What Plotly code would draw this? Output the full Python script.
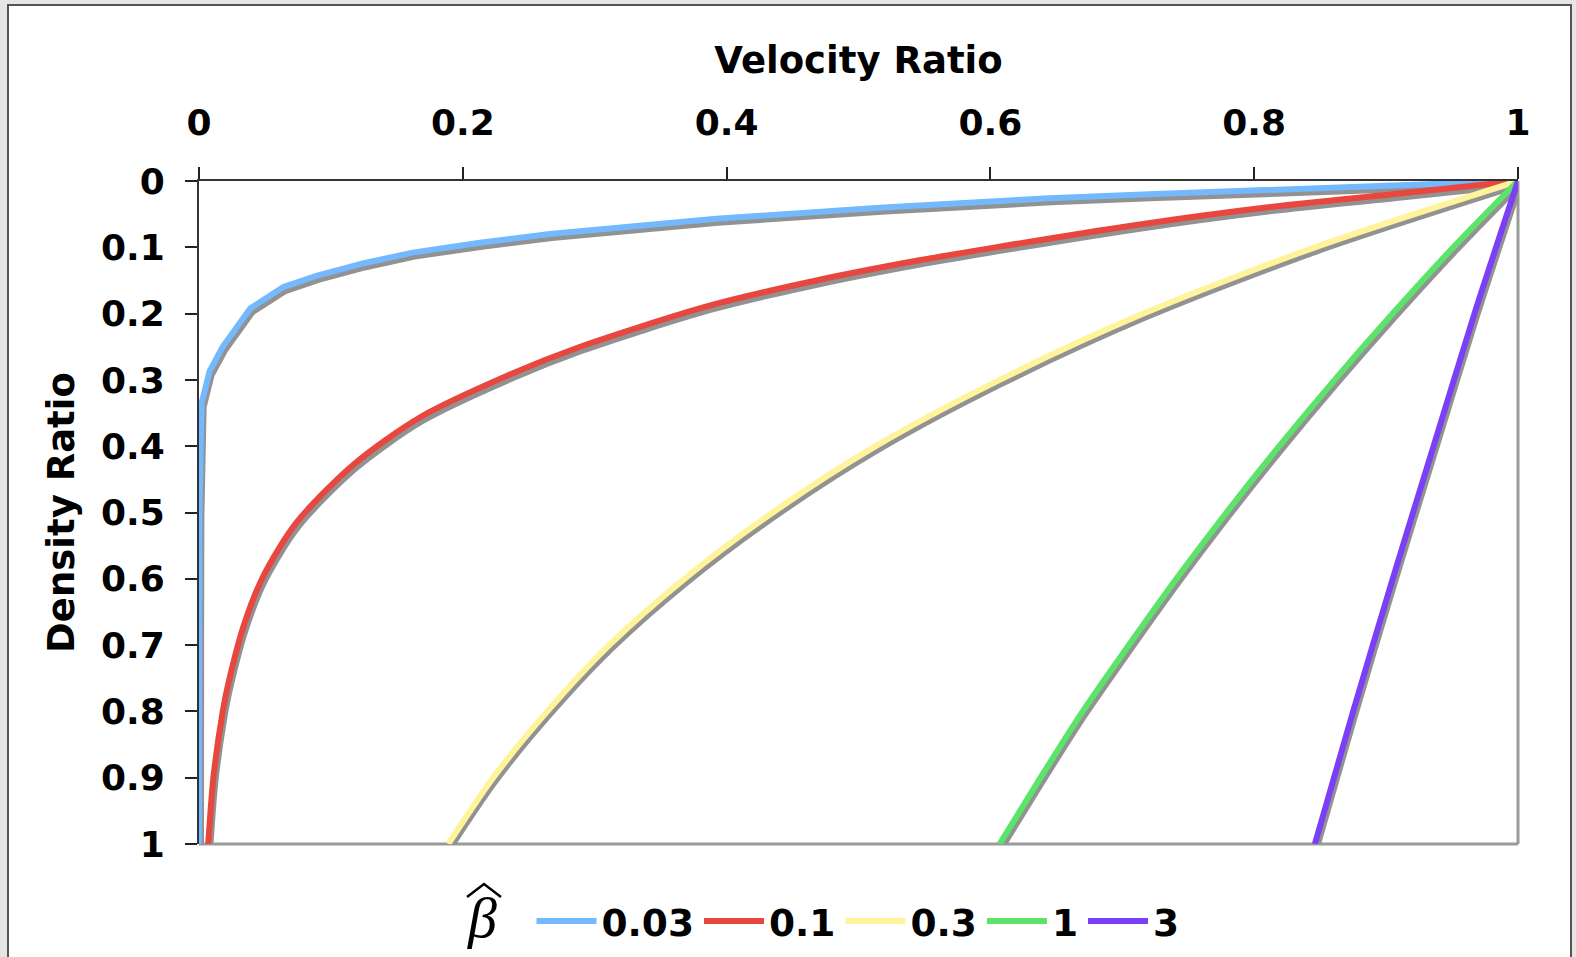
import plotly.graph_objects as go

# ---- data (velocity ratio, density ratio) ----
beta_labels = ["0.03", "0.1", "0.3", "1", "3"]

velocity_003 = [1.0, 0.91, 0.80, 0.72, 0.645, 0.519, 0.392, 0.266, 0.213, 0.162, 0.125,
                0.089, 0.064, 0.039, 0.018, 0.008, 0.002, 0.0008, 0.0003, 0.0001, 0.0]
density_003 = [0.0, 0.006, 0.014, 0.020, 0.026, 0.040, 0.057, 0.080, 0.093, 0.108, 0.124,
               0.143, 0.160, 0.192, 0.250, 0.287, 0.335, 0.42, 0.50, 0.70, 1.0]

velocity_01 = [1.0, 0.910, 0.809, 0.708, 0.607, 0.545, 0.468, 0.387, 0.289, 0.238,
               0.168, 0.117, 0.074, 0.049, 0.034, 0.022, 0.018, 0.011, 0.007]
density_01 = [0.0, 0.019, 0.040, 0.067, 0.099, 0.120, 0.150, 0.188, 0.250, 0.290,
              0.356, 0.428, 0.515, 0.595, 0.670, 0.760, 0.800, 0.898, 1.0]

velocity_03 = [1.0, 0.846, 0.716, 0.607, 0.513, 0.435, 0.368, 0.311, 0.264, 0.223, 0.189]
density_03 = [0.0, 0.1, 0.2, 0.3, 0.4, 0.5, 0.6, 0.7, 0.8, 0.9, 1.0]

velocity_1 = [1.0, 0.951, 0.905, 0.861, 0.819, 0.779, 0.741, 0.705, 0.670, 0.638, 0.607]
density_1 = [0.0, 0.1, 0.2, 0.3, 0.4, 0.5, 0.6, 0.7, 0.8, 0.9, 1.0]

velocity_3 = [1.0, 0.967, 0.936, 0.905, 0.875, 0.846]
density_3 = [0.0, 0.2, 0.4, 0.6, 0.8, 1.0]

x_ticks = [0, 0.2, 0.4, 0.6, 0.8, 1]
y_ticks = [0, 0.1, 0.2, 0.3, 0.4, 0.5, 0.6, 0.7, 0.8, 0.9, 1]

series_v = [velocity_003, velocity_01, velocity_03, velocity_1, velocity_3]
series_d = [density_003, density_01, density_03, density_1, density_3]
colors = ["#74B8FD", "#E8473F", "#FFF49C", "#5BE36A", "#7A3FF7"]
shapes_kind = ["linear", "spline", "spline", "spline", "spline"]
shadow_color = "#929292"

# ---- layout geometry ----
W, H = 1576, 957
L, R, T, B = 199, 58, 181, 113
PW = W - L - R
PH = H - T - B
dx_px, dy_px = 2, 4  # drop-shadow offset in pixels
LW = 6

FONT = "DejaVu Sans, Verdana, sans-serif"
tick_font = dict(family=FONT, size=36, color="black", weight="bold")
title_font = dict(family=FONT, size=37, color="black", weight="bold")
legend_font = dict(family=FONT, size=37.5, color="black", weight="bold")


def px_x(X):
    return (X - L) / PW


def px_y(Y):
    return (T + PH - Y) / PH


fig = go.Figure()

# empty trace so the main (visible) axes are rendered
fig.add_trace(go.Scatter(x=[], y=[], xaxis="x", yaxis="y", showlegend=False, hoverinfo="skip"))

# shadows (on shifted overlay axes)
for v, d, shp in zip(series_v, series_d, shapes_kind):
    fig.add_trace(go.Scatter(x=v, y=d, mode="lines", xaxis="x2", yaxis="y2",
                             line=dict(color=shadow_color, width=LW, shape=shp, smoothing=0.8),
                             showlegend=False, hoverinfo="skip"))
# coloured curves
for v, d, c, name, shp in zip(series_v, series_d, colors, beta_labels, shapes_kind):
    fig.add_trace(go.Scatter(x=v, y=d, mode="lines", xaxis="x3", yaxis="y3",
                             line=dict(color=c, width=LW, shape=shp, smoothing=0.8), name=name))

sx = dx_px / PW
sy = dy_px / PH

fig.update_layout(
    width=W, height=H, autosize=False,
    margin=dict(l=L, r=R, t=T, b=B, pad=0),
    paper_bgcolor="#e5e5e5",
    plot_bgcolor="rgba(0,0,0,0)",
    xaxis=dict(domain=[0, 1], range=[0, 1], side="top", tickvals=x_ticks,
               ticks="outside", ticklen=12, tickwidth=2, tickcolor="#222",
               showline=True, linecolor="#333", linewidth=2,
               showgrid=False, zeroline=False, tickfont=tick_font,
               ticklabelstandoff=18,
               title=dict(text="Velocity Ratio", font=title_font, standoff=17)),
    yaxis=dict(domain=[0, 1], range=[1, 0], tickvals=y_ticks,
               ticks="outside", ticklen=12, tickwidth=2, tickcolor="#222",
               showline=True, linecolor="#333", linewidth=2,
               showgrid=False, zeroline=False, tickfont=tick_font,
               ticklabelstandoff=13,
               title=dict(text="Density Ratio", font=title_font, standoff=15)),
    xaxis2=dict(overlaying="x", anchor="y2", range=[-sx, 1 - sx], visible=False),
    yaxis2=dict(overlaying="y", anchor="x2", range=[1 - sy, -sy], visible=False),
    xaxis3=dict(overlaying="x", anchor="y3", range=[0, 1], visible=False),
    yaxis3=dict(overlaying="y", anchor="x3", range=[1, 0], visible=False),
    legend=dict(orientation="h", xref="paper", x=px_x(858), xanchor="center",
                yref="container", y=1 - 921 / H, yanchor="middle",
                font=legend_font, bgcolor="rgba(0,0,0,0)", itemwidth=60),
    annotations=[
        dict(xref="paper", yref="paper", x=px_x(482), y=px_y(917), showarrow=False,
             text="<i>β</i>", xanchor="center", yanchor="middle",
             font=dict(family="Liberation Serif, serif", size=58, color="black", weight="normal")),
    ],
    shapes=[
        dict(type="rect", xref="paper", yref="paper", layer="below",
             x0=px_x(8), x1=px_x(1571), y0=px_y(975), y1=px_y(5),
             fillcolor="white", line=dict(color="#555", width=2)),
        dict(type="line", xref="paper", yref="paper", layer="below",
             x0=1, x1=1, y0=0, y1=1, line=dict(color="#9a9a9a", width=3)),
        dict(type="line", xref="paper", yref="paper", layer="below",
             x0=0, x1=1, y0=0, y1=0, line=dict(color="#9a9a9a", width=3)),
        # circumflex of the legend symbol (beta-hat)
        dict(type="path", xref="paper", yref="paper", layer="above",
             path="M {:.5f},{:.5f} L {:.5f},{:.5f} L {:.5f},{:.5f}".format(
                 px_x(467), px_y(897), px_x(484), px_y(884), px_x(501), px_y(897)),
             line=dict(color="black", width=2.5)),
    ],
)

fig.write_html("out.html")
